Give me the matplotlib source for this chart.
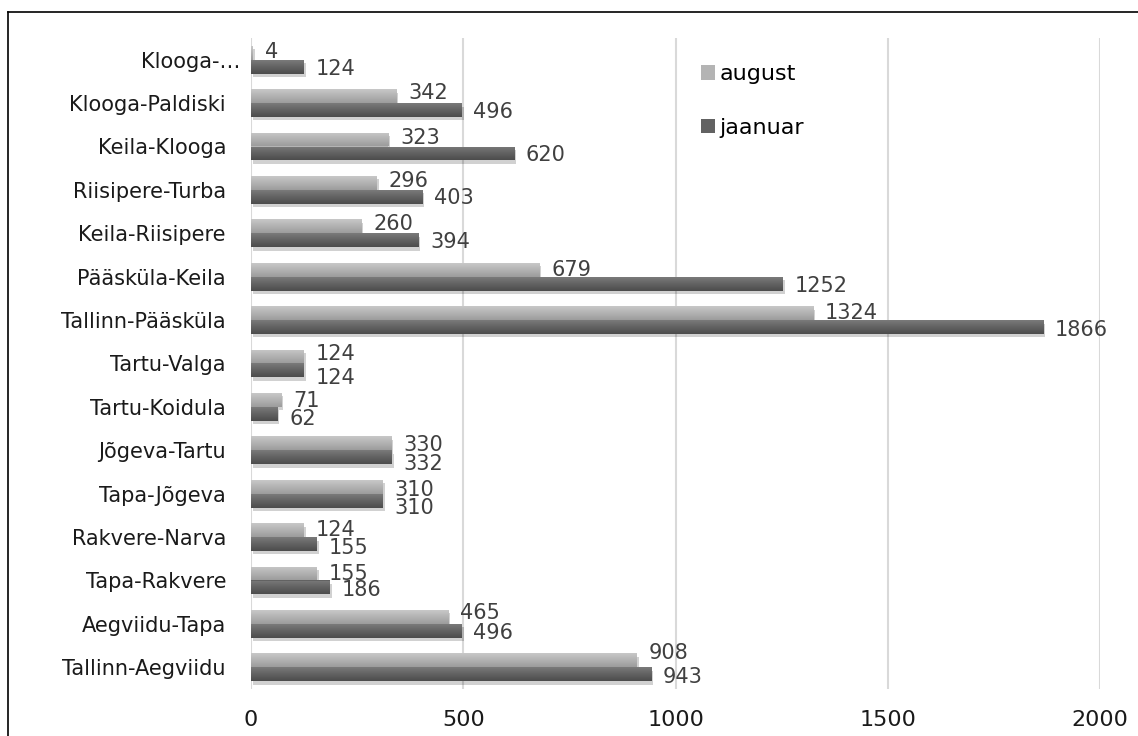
import matplotlib
matplotlib.use("Agg")
import matplotlib.pyplot as plt
import numpy as np
from matplotlib.colors import LinearSegmentedColormap
from matplotlib.patches import Patch
from matplotlib.lines import Line2D
from matplotlib.transforms import ScaledTranslation
import matplotlib.patheffects as pe

# Train counts per section, listed bottom to top
sections = ["Tallinn-Aegviidu", "Aegviidu-Tapa", "Tapa-Rakvere", "Rakvere-Narva",
            "Tapa-Jõgeva", "Jõgeva-Tartu", "Tartu-Koidula", "Tartu-Valga",
            "Tallinn-Pääsküla", "Pääsküla-Keila", "Keila-Riisipere", "Riisipere-Turba",
            "Keila-Klooga", "Klooga-Paldiski", "Klooga-…"]
august = [908, 465, 155, 124, 310, 330, 71, 124, 1324, 679, 260, 296, 323, 342, 4]
jaanuar = [943, 496, 186, 155, 310, 332, 62, 124, 1866, 1252, 394, 403, 620, 496, 124]
x_ticks = [0, 500, 1000, 1500, 2000]

# vertical nudges of the value labels (points, positive = downwards)
nudge_august = [-5.5, -3, 0.5, 0, 2, 1, 0.5, -1.5, 0, 0, -1.5, -1.5, -1, -2.2, -0.5]
nudge_jaanuar = [2, 1.5, 1.5, 3, 5.5, 5, 4, 5.5, 2, 1.5, 1, 1, 1, 1.5, 2]

plt.rcParams["font.family"] = ["DejaVu Sans"]

W, H = 1138, 736
fig = plt.figure(figsize=(W / 100, H / 100), dpi=100)
ax = fig.add_axes([251 / W, 1 - 689 / H, (1100 - 251) / W, (689 - 38) / H])

y = np.arange(len(sections))
h = 0.32

series = [
    ("august", august, y + h / 2, "#b4b4b4", ["#9c9c9c", "#b2b2b2", "#c8c8c8"], nudge_august),
    ("jaanuar", jaanuar, y - h / 2, "#626262", ["#4c4c4c", "#626262", "#7a7a7a"], nudge_jaanuar),
]

grad = np.linspace(0, 1, 64).reshape(-1, 1)
for name, vals, pos, base, stops, nudges in series:
    cmap = LinearSegmentedColormap.from_list(name, stops)
    bars = ax.barh(pos, vals, height=h, color=base, zorder=3)
    for p in bars:
        p.set_path_effects([pe.SimplePatchShadow(offset=(1.5, -2.5), shadow_rgbFace="black", alpha=0.18),
                            pe.Normal()])
        x0, y0 = p.get_x(), p.get_y()
        im = ax.imshow(grad, extent=[x0, x0 + p.get_width(), y0, y0 + p.get_height()],
                       origin="lower", aspect="auto", cmap=cmap, zorder=3.1,
                       interpolation="bilinear")
        im.set_clip_path(p)
    for v, yy, nd in zip(vals, pos, nudges):
        ax.annotate(str(v), xy=(v, yy), xytext=(8.5, -nd), textcoords="offset points",
                    ha="left", va="center", fontsize=15, color="#404040", zorder=5)

ax.set_xlim(0, 2000)
ax.set_ylim(-0.5, len(sections) - 0.5)
ax.set_aspect("auto")
ax.set_xticks(x_ticks)
ax.set_xticklabels([str(t) for t in x_ticks])
ax.set_yticks(y)
ax.set_yticklabels(sections)
ax.tick_params(axis="both", length=0, labelsize=15, colors="#1a1a1a")
ax.tick_params(axis="x", pad=15, labelsize=16)
ax.tick_params(axis="y", pad=18)
ax.xaxis.grid(True, color="#d9d9d9", linewidth=1.5, zorder=0)
ax.set_axisbelow(True)
for s in ax.spines.values():
    s.set_visible(False)

# the truncated top label sits a little further right
top_label = ax.get_yticklabels()[-1]
top_label.set_transform(top_label.get_transform() + ScaledTranslation(0.14, 0, fig.dpi_scale_trans))

handles = [Patch(facecolor="#b4b4b4", edgecolor="none", label="august"),
           Patch(facecolor="#626262", edgecolor="none", label="jaanuar")]
ax.legend(handles=handles, loc="upper left", bbox_to_anchor=(0.519, 0.973),
          frameon=False, fontsize=16, handlelength=0.65, handleheight=0.65,
          handletextpad=0.2, labelspacing=1.5, borderaxespad=0)

# Frame around the chart (top and left edges are in view)
fig.add_artist(Line2D([8 / W, 1], [1 - 12 / H, 1 - 12 / H], color="black", linewidth=1.2))
fig.add_artist(Line2D([8 / W, 8 / W], [0, 1 - 12 / H], color="black", linewidth=1.2))

fig.savefig("out.png", dpi=100)
